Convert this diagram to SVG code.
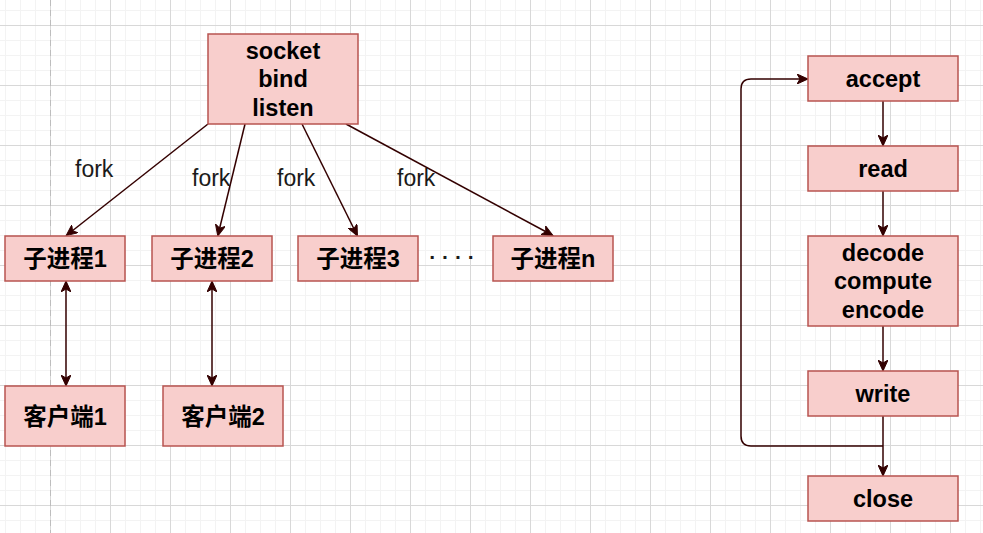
<svg xmlns="http://www.w3.org/2000/svg" width="983" height="533" viewBox="0 0 983 533">
<defs>
<pattern id="minor" x="5" y="10" width="15" height="15" patternUnits="userSpaceOnUse">
<path d="M0.5 0 V15 M0 0.5 H15" stroke="#f3f3f3" stroke-width="1" fill="none"/>
</pattern>
<pattern id="major" x="50" y="25" width="60" height="60" patternUnits="userSpaceOnUse">
<path d="M0.5 0 V60 M0 0.5 H60" stroke="#d8d8d8" stroke-width="1" fill="none"/>
</pattern>
<marker id="arr" markerWidth="12" markerHeight="10" refX="10" refY="5" orient="auto-start-reverse" markerUnits="userSpaceOnUse">
<path d="M0,0 L11,5 L0,10 L3,5 Z" fill="#330000" stroke="#330000" stroke-width="1"/>
</marker>
<style>
.box{fill:#f8cecc;stroke:#b85450;stroke-width:1.5}
.lbl{font-family:"Liberation Sans","Noto Sans CJK SC",sans-serif;font-weight:bold;font-size:23.5px;fill:#000;text-anchor:middle}
.fork{font-family:"Liberation Sans","Noto Sans CJK SC",sans-serif;font-size:23px;fill:#1a1a1a}
.c{fill:none;stroke:#330000;stroke-width:1.5}
</style>
</defs>
<rect width="983" height="533" fill="#ffffff"/>
<rect width="983" height="533" fill="url(#minor)"/>
<rect width="983" height="533" fill="url(#major)"/>
<line x1="50.5" y1="0" x2="50.5" y2="533" stroke="#bdbdbd" stroke-width="1" stroke-dasharray="6 4"/>

<g id="connectors">
<line class="c" x1="208" y1="124" x2="67" y2="235" marker-end="url(#arr)"/>
<line class="c" x1="245" y1="124" x2="218" y2="235" marker-end="url(#arr)"/>
<line class="c" x1="302" y1="124" x2="357" y2="235" marker-end="url(#arr)"/>
<line class="c" x1="346" y1="124" x2="552" y2="235" marker-end="url(#arr)"/>
<line class="c" x1="66" y1="282" x2="66" y2="385" marker-start="url(#arr)" marker-end="url(#arr)"/>
<line class="c" x1="212" y1="282" x2="212" y2="385" marker-start="url(#arr)" marker-end="url(#arr)"/>
<line class="c" x1="883" y1="101" x2="883" y2="145" marker-end="url(#arr)"/>
<line class="c" x1="883" y1="191" x2="883" y2="235" marker-end="url(#arr)"/>
<line class="c" x1="883" y1="326" x2="883" y2="370" marker-end="url(#arr)"/>
<line class="c" x1="883" y1="416" x2="883" y2="475" marker-end="url(#arr)"/>
<path class="c" d="M883 446 H751 Q741 446 741 436 V89 Q741 79 751 79 H807" marker-end="url(#arr)"/>
</g>

<g id="fork-labels">
<text class="fork" x="75" y="177">fork</text>
<text class="fork" x="192" y="185.5">fork</text>
<text class="fork" x="277" y="185.5">fork</text>
<text class="fork" x="397" y="185.5">fork</text>
<text class="fork" x="452" y="264" text-anchor="middle" style="font-size:21px;font-weight:bold">· · · ·</text>
</g>

<g id="n-server">
<rect class="box" x="208" y="34" width="150" height="90"/>
<text class="lbl" x="283" y="58.5">socket</text>
<text class="lbl" x="283" y="87">bind</text>
<text class="lbl" x="283" y="115.5">listen</text>
</g>
<g id="n-child1"><rect class="box" x="5" y="236" width="120" height="45"/><text class="lbl" x="65" y="266.5">子进程1</text></g>
<g id="n-child2"><rect class="box" x="152" y="236" width="120" height="45"/><text class="lbl" x="212" y="266.5">子进程2</text></g>
<g id="n-child3"><rect class="box" x="298" y="236" width="120" height="45"/><text class="lbl" x="358" y="266.5">子进程3</text></g>
<g id="n-childn"><rect class="box" x="493" y="236" width="120" height="45"/><text class="lbl" x="553" y="266.5">子进程n</text></g>
<g id="n-client1"><rect class="box" x="5" y="386" width="120" height="60"/><text class="lbl" x="65" y="424.5">客户端1</text></g>
<g id="n-client2"><rect class="box" x="163" y="386" width="120" height="60"/><text class="lbl" x="223" y="424.5">客户端2</text></g>
<g id="n-accept"><rect class="box" x="808" y="56" width="150" height="45"/><text class="lbl" x="883" y="86.5">accept</text></g>
<g id="n-read"><rect class="box" x="808" y="146" width="150" height="45"/><text class="lbl" x="883" y="176.5">read</text></g>
<g id="n-process">
<rect class="box" x="808" y="236" width="150" height="90"/>
<text class="lbl" x="883" y="260.5">decode</text>
<text class="lbl" x="883" y="289">compute</text>
<text class="lbl" x="883" y="317.5">encode</text>
</g>
<g id="n-write"><rect class="box" x="808" y="371" width="150" height="45"/><text class="lbl" x="883" y="401.5">write</text></g>
<g id="n-close"><rect class="box" x="808" y="476" width="150" height="45"/><text class="lbl" x="883" y="506.5">close</text></g>
</svg>
